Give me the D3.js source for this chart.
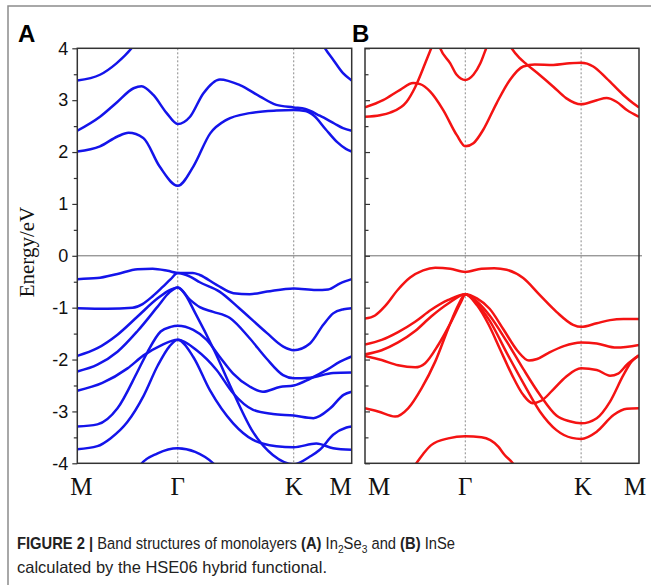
<!DOCTYPE html>
<html>
<head>
<meta charset="utf-8">
<script src="https://cdn.jsdelivr.net/npm/d3@7"></script>
<style>
  body { margin: 0; background: #fff; }
  svg { display: block; }
</style>
</head>
<body>
<div id="chart"></div>
<script>
const width = 651;
const height = 585;

// high-symmetry path M - Γ - K - M, k in segment units (0..3)
const kTicks = [0, 1, 2, 3];
const kLabels = ['M', 'Γ', 'K', 'M'];
const kPathLength = [0, 0.5, 1.0774, 1.366]; // |ΓM|, |ΓK|, |KM| of hexagonal BZ
const energyTicks = [-4, -3, -2, -1, 0, 1, 2, 3, 4];
const energyMinor = [-3.5, -2.5, -1.5, -0.5, 0.5, 1.5, 2.5, 3.5];

// ---- (A) In2Se3, [k, E] ----
const in2se3C1 = [[0,2.01],[0.226,2.11],[0.4,2.30],[0.51,2.37],[0.657,2.27],[0.82,1.72],[1,1.35],[1.134,1.72],[1.28,2.36],[1.42,2.62],[1.62,2.75],[1.85,2.80],[2,2.81],[2.2,2.79],[2.35,2.70],[2.55,2.44],[2.75,2.19],[2.9,2.06],[3,2.01]];
const in2se3C2 = [[0,2.41],[0.226,2.68],[0.39,2.95],[0.56,3.23],[0.64,3.27],[0.757,3.10],[0.89,2.75],[1,2.54],[1.106,2.68],[1.22,3.13],[1.364,3.40],[1.536,3.29],[1.71,3.07],[1.85,2.91],[2,2.86],[2.2,2.83],[2.45,2.70],[2.7,2.55],[2.85,2.46],[3,2.41]];
const in2se3C3a = [[0,3.38],[0.226,3.49],[0.39,3.71],[0.54,4.0],[0.65,4.3]];
const in2se3C3b = [[2.4,4.3],[2.54,4.0],[2.68,3.78],[2.85,3.52],[3,3.38]];

const in2se3V1 = [[0,-0.45],[0.2,-0.43],[0.4,-0.35],[0.6,-0.26],[0.75,-0.25],[0.9,-0.29],[1,-0.33],[1.13,-0.33],[1.19,-0.37],[1.335,-0.56],[1.48,-0.72],[1.62,-0.74],[1.77,-0.69],[2,-0.63],[2.385,-0.66],[2.595,-0.65],[2.8,-0.53],[3,-0.45]];
const in2se3V2 = [[0,-1.01],[0.3,-1.02],[0.55,-1.0],[0.65,-0.93],[0.75,-0.78],[0.85,-0.6],[0.93,-0.45],[1,-0.33],[1.106,-0.40],[1.19,-0.51],[1.36,-0.69],[1.53,-1.01],[1.77,-1.49],[1.91,-1.75],[2,-1.82],[2.28,-1.69],[2.51,-1.33],[2.68,-1.11],[2.86,-1.03],[3,-1.01]];
const in2se3V3 = [[0,-1.93],[0.2,-1.78],[0.4,-1.52],[0.6,-1.17],[0.8,-0.82],[0.92,-0.66],[1,-0.61],[1.05,-0.70],[1.15,-1.1],[1.32,-1.85],[1.478,-2.63],[1.65,-3.40],[1.82,-3.84],[2,-4.02],[2.28,-3.87],[2.45,-3.74],[2.68,-3.45],[2.91,-3.31],[3,-3.29]];
const in2se3V4 = [[0,-2.23],[0.2,-2.10],[0.4,-1.85],[0.6,-1.45],[0.8,-0.98],[0.92,-0.70],[1,-0.61],[1.107,-0.85],[1.19,-0.99],[1.306,-1.08],[1.45,-1.20],[1.62,-1.59],[1.765,-1.98],[1.908,-2.30],[2,-2.36],[2.28,-2.35],[2.68,-2.26],[3,-2.25]];
const in2se3V5 = [[0,-2.60],[0.25,-2.45],[0.5,-2.17],[0.66,-1.92],[0.83,-1.73],[1,-1.62],[1.163,-1.82],[1.335,-2.20],[1.478,-2.65],[1.65,-2.97],[1.82,-3.05],[2,-3.08],[2.34,-3.13],[2.63,-2.94],[2.86,-2.68],[3,-2.62]];
const in2se3V6 = [[0,-3.29],[0.2,-3.25],[0.4,-2.94],[0.6,-2.23],[0.7,-1.85],[0.83,-1.46],[0.93,-1.37],[1,-1.35],[1.134,-1.43],[1.25,-1.62],[1.363,-1.95],[1.478,-2.27],[1.62,-2.52],[1.735,-2.62],[1.88,-2.53],[2,-2.50],[2.28,-2.37],[2.57,-2.20],[2.8,-2.04],[3,-1.94]];
const in2se3V7 = [[0,-3.73],[0.2,-3.67],[0.33,-3.52],[0.5,-3.20],[0.66,-2.70],[0.8,-2.12],[0.92,-1.74],[1,-1.62],[1.134,-1.95],[1.277,-2.59],[1.478,-3.23],[1.65,-3.55],[1.85,-3.67],[2,-3.69],[2.39,-3.62],[2.68,-3.71],[3,-3.74]];
const in2se3V8 = [[0.6,-4.12],[0.63,-4.03],[0.8,-3.81],[1,-3.71],[1.15,-3.78],[1.306,-4.0],[1.35,-4.1]];

// ---- (B) InSe, [k, E] ----
const inseC1 = [[0,2.86],[0.18,3.0],[0.35,3.2],[0.48,3.33],[0.55,3.31],[0.648,3.17],[0.78,2.81],[0.914,2.33],[1,2.11],[1.07,2.17],[1.155,2.43],[1.27,2.94],[1.385,3.39],[1.5,3.65],[1.6,3.69],[1.76,3.68],[1.9,3.71],[2,3.72],[2.21,3.65],[2.44,3.42],[2.73,3.10],[2.9,2.94],[3,2.86]];
const inseC2a = [[0,2.68],[0.15,2.71],[0.25,2.76],[0.415,2.97],[0.5,3.25],[0.6,3.71],[0.66,4.0],[0.72,4.3]];
const inseC2b = [[1.33,4.3],[1.40,4.0],[1.47,3.81],[1.53,3.69],[1.64,3.49],[1.76,3.26],[1.87,3.04],[2,2.92],[2.27,3.0],[2.44,3.04],[2.61,2.97],[2.79,2.81],[3,2.68]];
const inseC3 = [[0.7,4.3],[0.75,4.0],[0.85,3.71],[0.914,3.49],[1,3.39],[1.07,3.49],[1.13,3.71],[1.18,4.0],[1.23,4.3]];

const inseV1 = [[0,-1.21],[0.1,-1.15],[0.2,-0.97],[0.33,-0.65],[0.45,-0.42],[0.58,-0.28],[0.7,-0.23],[0.85,-0.25],[1,-0.31],[1.14,-0.25],[1.25,-0.24],[1.357,-0.27],[1.5,-0.43],[1.644,-0.76],[1.787,-1.08],[1.931,-1.33],[2,-1.37],[2.27,-1.30],[2.5,-1.24],[2.73,-1.22],[3,-1.22]];
const inseV2 = [[0,-1.71],[0.166,-1.62],[0.33,-1.47],[0.5,-1.27],[0.66,-1.04],[0.83,-0.85],[1,-0.74],[1.1,-0.82],[1.21,-1.02],[1.33,-1.42],[1.45,-1.83],[1.55,-2.02],[1.62,-1.99],[1.72,-1.87],[1.85,-1.74],[2,-1.67],[2.27,-1.69],[2.61,-1.77],[3,-1.72]];
const inseV3 = [[0,-1.90],[0.166,-1.82],[0.33,-1.67],[0.5,-1.45],[0.66,-1.17],[0.83,-0.92],[1,-0.74],[1.1,-0.95],[1.2,-1.32],[1.3,-1.80],[1.4,-2.28],[1.5,-2.68],[1.58,-2.84],[1.66,-2.79],[1.75,-2.60],[1.87,-2.33],[2,-2.17],[2.27,-2.20],[2.5,-2.31],[2.64,-2.27],[2.79,-2.10],[3,-1.92]];
const inseV4 = [[0,-1.93],[0.166,-2.01],[0.33,-2.11],[0.5,-2.15],[0.6,-2.07],[0.73,-1.72],[0.86,-1.27],[0.96,-0.88],[1,-0.74],[1.1,-0.88],[1.21,-1.15],[1.36,-1.66],[1.5,-2.18],[1.644,-2.68],[1.787,-3.08],[1.9,-3.19],[2,-3.23],[2.27,-3.13],[2.5,-2.81],[2.73,-2.30],[2.87,-2.04],[3,-1.92]];
const inseV5 = [[0,-2.94],[0.13,-3.0],[0.3,-3.10],[0.43,-2.94],[0.565,-2.55],[0.7,-2.04],[0.83,-1.40],[0.93,-0.95],[1,-0.74],[1.1,-0.92],[1.21,-1.25],[1.36,-1.88],[1.5,-2.45],[1.644,-3.0],[1.787,-3.36],[1.92,-3.51],[2,-3.53],[2.27,-3.39],[2.56,-3.07],[2.79,-2.95],[3,-2.94]];
const inseV6 = [[0.47,-4.1],[0.5,-4.03],[0.58,-3.82],[0.66,-3.65],[0.83,-3.52],[1,-3.48],[1.14,-3.50],[1.285,-3.68],[1.34,-3.84],[1.41,-4.0],[1.44,-4.1]];

const panels = [
  { id: 'A', left: 77.3, right: 351.7, color: '#1414ea', tickDir: 'out', labels: true,
    labelNudge: [4, 0, 0, -11],
    bands: [in2se3C1, in2se3C2, in2se3C3a, in2se3C3b, in2se3V1, in2se3V2, in2se3V3, in2se3V4, in2se3V5, in2se3V6, in2se3V7, in2se3V8] },
  { id: 'B', left: 365, right: 639, color: '#f41313', tickDir: 'in', labels: false,
    labelNudge: [14, 0, 2, -4],
    bands: [inseC1, inseC2a, inseC2b, inseC3, inseV1, inseV2, inseV3, inseV4, inseV5, inseV6] }
];

const plotTop = 48.3;
const plotBottom = 463.3;

const svg = d3.select('#chart').append('svg')
  .attr('width', width).attr('height', height)
  .attr('viewBox', `0 0 ${width} ${height}`);

// outer figure frame (only top/left visible)
svg.append('rect')
  .attr('x', 8).attr('y', 6).attr('width', 700).attr('height', 700)
  .attr('fill', 'none').attr('stroke', '#8c8c8c').attr('stroke-width', 1.5);

const yScale = d3.scaleLinear().domain([-4, 4]).range([plotBottom, plotTop]);

function drawPanel(p, i) {
  const total = kPathLength[kPathLength.length - 1];
  const xScale = d3.scaleLinear()
    .domain(kTicks)
    .range(kPathLength.map((d) => p.left + (p.right - p.left) * d / total));

  const g = svg.append('g').attr('class', 'panel-' + p.id);

  g.append('clipPath').attr('id', 'clip' + p.id)
    .append('rect')
    .attr('x', p.left).attr('y', plotTop)
    .attr('width', p.right - p.left).attr('height', plotBottom - plotTop);

  // dotted lines at Γ and K
  g.selectAll('line.sym')
    .data(kTicks.slice(1, 3))
    .join('line')
    .attr('class', 'sym')
    .attr('x1', (d) => xScale(d)).attr('x2', (d) => xScale(d))
    .attr('y1', plotTop).attr('y2', plotBottom)
    .attr('stroke', '#8a8a8a').attr('stroke-width', 1)
    .attr('stroke-dasharray', '2,2');

  // fermi level
  g.append('line')
    .attr('x1', p.left).attr('x2', p.right + (i === 1 ? 3 : 0))
    .attr('y1', yScale(0)).attr('y2', yScale(0))
    .attr('stroke', '#707070').attr('stroke-width', 1);

  const line = d3.line()
    .x((d) => xScale(d[0]))
    .y((d) => yScale(d[1]))
    .curve(d3.curveMonotoneX);

  g.append('g').attr('clip-path', `url(#clip${p.id})`)
    .selectAll('path')
    .data(p.bands)
    .join('path')
    .attr('d', line)
    .attr('fill', 'none')
    .attr('stroke', p.color)
    .attr('stroke-width', 2.5)
    .attr('stroke-linejoin', 'round');

  // frame
  g.append('rect')
    .attr('x', p.left).attr('y', plotTop)
    .attr('width', p.right - p.left).attr('height', plotBottom - plotTop)
    .attr('fill', 'none').attr('stroke', '#333').attr('stroke-width', 1.5);

  // y ticks
  const axisFn = p.tickDir === 'out' ? d3.axisLeft : d3.axisRight;
  const major = g.append('g').attr('transform', `translate(${p.left},0)`)
    .call(axisFn(yScale).tickValues(energyTicks).tickSize(5).tickPadding(4)
      .tickFormat(p.labels ? (d) => String(d) : ''));
  major.select('.domain').remove();
  major.selectAll('line').attr('stroke', '#333').attr('stroke-width', 1.2);
  major.selectAll('text')
    .attr('font-family', '"Liberation Sans", Arial, sans-serif')
    .attr('font-size', 18).attr('fill', '#111');

  const minor = g.append('g').attr('transform', `translate(${p.left},0)`)
    .call(axisFn(yScale).tickValues(energyMinor).tickSize(3.5).tickFormat(''));
  minor.select('.domain').remove();
  minor.selectAll('line').attr('stroke', '#333').attr('stroke-width', 1.2);

  // k-point labels
  g.selectAll('text.klabel')
    .data(kTicks)
    .join('text')
    .attr('class', 'klabel')
    .attr('x', (d, j) => xScale(d) + p.labelNudge[j])
    .attr('y', 495)
    .attr('text-anchor', 'middle')
    .attr('font-family', '"Liberation Serif", "Times New Roman", serif')
    .attr('font-size', 25)
    .attr('fill', '#111')
    .text((d, j) => kLabels[j]);

  // panel letter
  svg.append('text')
    .attr('x', i === 0 ? 18 : p.left - 13)
    .attr('y', 42)
    .attr('font-family', '"Liberation Sans", Arial, sans-serif')
    .attr('font-weight', 'bold')
    .attr('font-size', 24)
    .attr('fill', '#000')
    .text(p.id);
}

panels.forEach(drawPanel);

// y axis title
svg.append('text')
  .attr('transform', 'translate(34,252) rotate(-90)')
  .attr('text-anchor', 'middle')
  .attr('font-family', '"Liberation Serif", "Times New Roman", serif')
  .attr('font-size', 21)
  .attr('fill', '#111')
  .text('Energy/eV');

// caption (first line is set a bit condensed, as in the original)
const capFont = '"Liberation Sans", Arial, sans-serif';
const cap1 = svg.append('text')
  .attr('transform', 'translate(17,549) scale(0.894,1)')
  .attr('font-family', capFont).attr('font-size', 16.5).attr('fill', '#222');
const captionParts = [
  ['FIGURE 2 | ', 'bold'], ['Band structures of monolayers ', ''], ['(A)', 'bold'], [' In', ''],
  ['2', 'sub'], ['Se', ''], ['3', 'sub'], [' and ', ''], ['(B)', 'bold'], [' InSe', '']
];
let shifted = false;
captionParts.forEach(([t, kind]) => {
  const ts = cap1.append('tspan').text(t);
  if (kind === 'bold') ts.attr('font-weight', 'bold');
  if (kind === 'sub') {
    ts.attr('font-size', 11.5).attr('dy', 4);
    shifted = true;
  } else if (shifted) {
    ts.attr('dy', -4);
    shifted = false;
  }
});
svg.append('text').attr('x', 17).attr('y', 573)
  .attr('font-family', capFont).attr('font-size', 16.5).attr('fill', '#222')
  .text('calculated by the HSE06 hybrid functional.');
</script>
</body>
</html>
